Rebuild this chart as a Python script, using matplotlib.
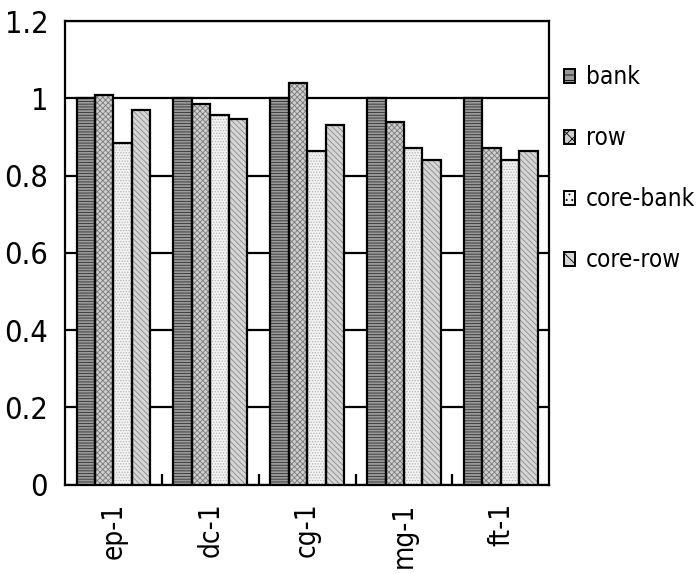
import matplotlib
matplotlib.use("Agg")
import matplotlib.pyplot as plt
import numpy as np
from matplotlib.patches import Patch

plt.rcParams['font.family'] = ['DejaVu Sans']
plt.rcParams['font.stretch'] = 'condensed'
plt.rcParams['hatch.linewidth'] = 0.6

benchmarks = ["ep-1", "dc-1", "cg-1", "mg-1", "ft-1"]
series = ["bank", "row", "core-bank", "core-row"]
bank = [1.0, 1.0, 1.0, 1.0, 1.0]
row = [1.008, 0.985, 1.04, 0.939, 0.871]
core_bank = [0.884, 0.957, 0.864, 0.871, 0.840]
core_row = [0.97, 0.946, 0.931, 0.840, 0.864]
values = [bank, row, core_bank, core_row]

faces = ["#9a9a9a", "#cfcfcf", "#f2f2f2", "#d6d6d6"]
hatch_cols = ["#303030", "#7a7a7a", "#b5b5b5", "#8a8a8a"]
hatches = ["------", "xxxxxx", "......", "\\\\\\\\\\\\"]

fig = plt.figure(figsize=(6.98, 5.73), dpi=100)
ax = fig.add_axes([0.093, 0.154, 0.694, 0.809])

x = np.arange(len(benchmarks))
w = 0.19
handles = []
for i, vals in enumerate(values):
    pos = x + (i - 1.5) * w
    ax.bar(pos, vals, w, color=faces[i], hatch=hatches[i],
           edgecolor=hatch_cols[i], linewidth=0, zorder=3)
    ax.bar(pos, vals, w, fill=False, edgecolor="black", linewidth=1.6, zorder=4)
    handles.append(Patch(facecolor=faces[i], hatch=hatches[i][:3],
                         edgecolor="black", linewidth=1.4))

ax.set_xlim(-0.5, len(benchmarks) - 0.5)
ax.set_ylim(0, 1.2)
ax.set_yticks(np.arange(0, 1.21, 0.2))
ax.set_yticklabels(["0", "0.2", "0.4", "0.6", "0.8", "1", "1.2"])
ax.yaxis.grid(True, color="black", linewidth=1.6, zorder=1)
ax.set_axisbelow(True)
ax.tick_params(axis="y", length=0, labelsize=22, pad=12)

ax.set_xticks(x)
ax.set_xticklabels(benchmarks, rotation=90, fontsize=20)
ax.tick_params(axis="x", length=0, pad=13)
ax.set_xticks(np.arange(0.5, len(benchmarks) - 0.5), minor=True)
ax.tick_params(axis="x", which="minor", direction="in", length=8, width=1.6)

for s in ax.spines.values():
    s.set_linewidth(1.6)

ax.legend(handles, series, loc="upper left", bbox_to_anchor=(1.0, 0.936),
          frameon=False, fontsize=17.5, handlelength=0.45, handleheight=0.5,
          handletextpad=0.45, labelspacing=1.52, borderaxespad=0.2)

fig.savefig("out.png", dpi=100)
